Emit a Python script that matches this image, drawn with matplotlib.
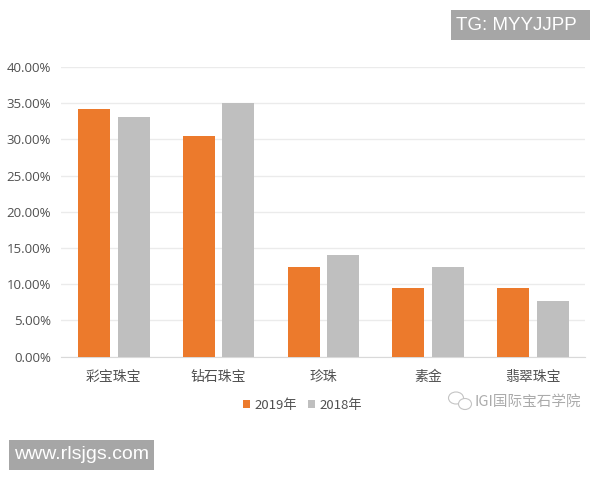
import matplotlib
matplotlib.use('Agg')
import matplotlib.pyplot as plt
from matplotlib.patches import Ellipse, Rectangle
import numpy as np

plt.rcParams['font.family'] = ['Noto Sans CJK SC', 'DejaVu Sans']

categories = ['彩宝珠宝', '钻石珠宝', '珍珠', '素金', '翡翠珠宝']
values_2019 = [34.2, 30.4, 12.3, 9.5, 9.5]
values_2018 = [33.1, 35.0, 14.0, 12.3, 7.6]
yticks = [0, 5, 10, 15, 20, 25, 30, 35, 40]

W, H = 600, 480
fig = plt.figure(figsize=(6, 4.8), dpi=100)
ax = fig.add_axes([61 / W, 1 - 356.5 / H, 524 / W, 289.5 / H])

x = np.arange(len(categories))
ax.bar(x - 0.185, values_2019, 0.305, color='#EC7A2C', label='2019年', zorder=3)
ax.bar(x + 0.192, values_2018, 0.305, color='#BFBFBF', label='2018年', zorder=3)

ax.set_xlim(-0.5, 4.5)
ax.set_ylim(0, 40)
ax.set_yticks(yticks)
ax.set_yticklabels(['%.2f%%' % v for v in yticks], fontsize=9.5, color='#505050',
                   family=['Open Sans', 'DejaVu Sans'])
ax.set_xticks(x)
ax.set_xticklabels(categories, fontsize=10, color='#505050')
ax.tick_params(length=0, pad=7)
ax.tick_params(axis='x', pad=10)
ax.grid(axis='y', color='#EBEBEB', linewidth=1, zorder=0)
for s in ['top', 'right', 'left']:
    ax.spines[s].set_visible(False)
ax.spines['bottom'].set_color('#D9D9D9')

fig.legend(loc='center', bbox_to_anchor=(302.5 / W, 1 - 405.5 / H), ncol=2, frameon=False,
           fontsize=9.5, handlelength=0.55, handleheight=0.55, handletextpad=0.3,
           columnspacing=0.85, labelcolor='#505050')

# watermark in the lower right
fig.text(581 / W, 1 - 402 / H, 'IGI国际宝石学院', fontsize=10.5, color='#ABABAB',
         ha='right', va='center')
fig.add_artist(Ellipse((456 / W, 1 - 398 / H), 15 / W, 12 / H, fill=False, ec='#C4C4C4',
                       lw=0.8, transform=fig.transFigure))
fig.add_artist(Ellipse((465 / W, 1 - 404 / H), 13 / W, 11 / H, fc='white', ec='#C4C4C4',
                       lw=0.8, transform=fig.transFigure))

# grey stamps
fig.add_artist(Rectangle((451 / W, 1 - 40 / H), 139 / W, 30 / H, fc='#A6A6A6', ec='none',
                         transform=fig.transFigure))
fig.text(456 / W, 1 - 25.5 / H, 'TG: MYYJJPP', fontsize=13.5, color='white', ha='left',
         va='center', family=['Liberation Sans'])
fig.add_artist(Rectangle((9 / W, 1 - 470 / H), 145 / W, 30 / H, fc='#A6A6A6', ec='none',
                         transform=fig.transFigure))
fig.text(14 / W, 1 - 454.5 / H, 'www.rlsjgs.com', fontsize=14, color='white', ha='left',
         va='center', family=['Liberation Sans'])

fig.savefig('out.png', dpi=100)
